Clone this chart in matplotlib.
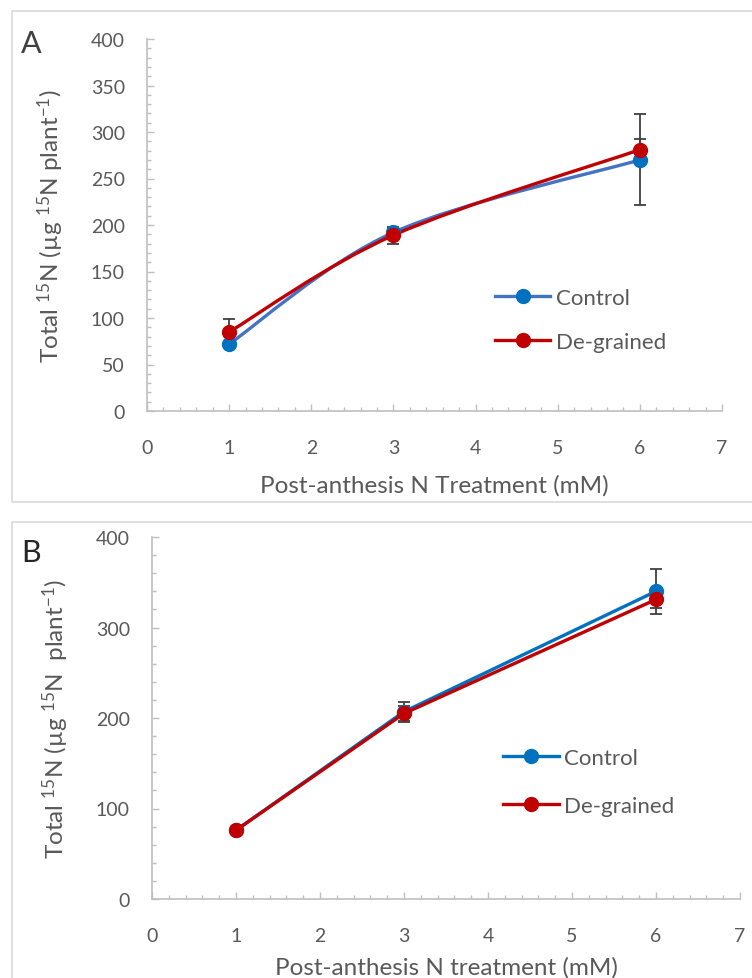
import matplotlib
matplotlib.use("Agg")
import numpy as np
import matplotlib.pyplot as plt
from matplotlib.path import Path
from matplotlib.patches import PathPatch, Rectangle
from matplotlib.lines import Line2D
from matplotlib.ticker import MultipleLocator

# ---- data ----
n_treatment = [1, 3, 6]

a_control = [72, 192, 270]
a_control_err = [2, 5, 49]
a_degrained = [85, 189, 281]
a_degrained_err = [14, 9, 12]

b_control = [76, 207, 340]
b_control_err = [1.5, 11, 25]
b_degrained = [76, 205, 331]
b_degrained_err = [1.5, 8, 10]

series_labels = ["Control", "De-grained"]

W, H = 752, 979
TXT = "#595959"
AXC = "#BFBFBF"
RED = "#C00000"
BLUE_MK = "#0070C0"

plt.rcParams["font.family"] = ["Lato", "DejaVu Sans"]
plt.rcParams["mathtext.fontset"] = "custom"
plt.rcParams["mathtext.rm"] = "Lato"
plt.rcParams["mathtext.it"] = "Lato:italic"
plt.rcParams["mathtext.bf"] = "Lato:bold"


def smooth_path(xs, ys):
    """Excel-style smoothed line (Catmull-Rom converted to cubic Bezier)."""
    pts = np.column_stack([xs, ys]).astype(float)
    ext = np.vstack([pts[0], pts, pts[-1]])
    verts = [pts[0]]
    codes = [Path.MOVETO]
    for i in range(len(pts) - 1):
        p0, p1, p2, p3 = ext[i], ext[i + 1], ext[i + 2], ext[i + 3]
        verts += [p1 + (p2 - p0) / 6, p2 - (p3 - p1) / 6, p2]
        codes += [Path.CURVE4] * 3
    return Path(verts, codes)


def px_axes(left, top, right, bottom):
    return fig.add_axes([left / W, 1 - bottom / H, (right - left) / W, (bottom - top) / H])


def style_axes(ax, ymax, ymajor, yminor):
    ax.set_xlim(0, 7)
    ax.set_ylim(0, ymax)
    ax.xaxis.set_major_locator(MultipleLocator(1))
    ax.xaxis.set_minor_locator(MultipleLocator(0.2))
    ax.yaxis.set_major_locator(MultipleLocator(ymajor))
    ax.yaxis.set_minor_locator(MultipleLocator(yminor))
    for s in ["top", "right"]:
        ax.spines[s].set_visible(False)
    for s in ["left", "bottom"]:
        ax.spines[s].set_color(AXC)
        ax.spines[s].set_linewidth(1.2)
    ax.tick_params(which="major", direction="in", length=5, width=1, color=AXC,
                   labelcolor=TXT, labelsize=14)
    ax.tick_params(which="minor", direction="in", length=3, width=1, color=AXC)
    ax.tick_params(axis="y", pad=16)
    ax.tick_params(axis="x", pad=20.5)
    ax.patch.set_alpha(0)


def draw_series(ax, x, y, err, line_color, marker_color, smooth):
    # capsize is half the cap width in matplotlib
    ax.errorbar(x, y, yerr=err, fmt="none", ecolor="#404040", elinewidth=1.3,
                capsize=4, capthick=1.3, zorder=2)
    if smooth:
        ax.add_patch(PathPatch(smooth_path(x, y), fill=False, edgecolor=line_color,
                               lw=2.4, zorder=3, capstyle="round"))
        ax.plot(x, y, linestyle="none", marker="o", ms=10, color=marker_color, zorder=4)
    else:
        ax.plot(x, y, color=line_color, lw=2.4, marker="o", ms=10,
                markerfacecolor=marker_color, markeredgecolor=marker_color, zorder=3)


def add_legend(ax, colors, anchor, spacing):
    handles = [Line2D([], [], color=lc, lw=2.4, marker="o", ms=10,
                      markerfacecolor=mc, markeredgecolor=mc) for lc, mc in colors]
    ax.legend(handles, series_labels, loc="center left", bbox_to_anchor=anchor,
              frameon=False, fontsize=16, labelcolor=TXT, handlelength=2.5,
              handletextpad=0.25, labelspacing=spacing, borderaxespad=0, borderpad=0)


fig = plt.figure(figsize=(W / 100, H / 100), dpi=100)

# panel borders
fig.add_artist(Rectangle((12 / W, 1 - 503 / H), 760 / W, 491 / H, transform=fig.transFigure,
                         fill=False, ec="#D9D9D9", lw=1.2))
fig.add_artist(Rectangle((12 / W, 1 - 990 / H), 760 / W, 467 / H, transform=fig.transFigure,
                         fill=False, ec="#D9D9D9", lw=1.2))

# ---- Panel A ----
ax1 = px_axes(147, 40, 722, 412)
style_axes(ax1, 400, 50, 10)
draw_series(ax1, n_treatment, a_control, a_control_err, "#4472C4", BLUE_MK, True)
draw_series(ax1, n_treatment, a_degrained, a_degrained_err, RED, RED, True)
ax1.set_xlabel("Post-anthesis N Treatment (mM)", fontsize=17.5, color=TXT, labelpad=13)
ax1.set_ylabel("Total $^{15}$N (µg $^{15}$N plant$^{-1}$)", fontsize=17.5, color=TXT,
               labelpad=18)
add_legend(ax1, [("#4472C4", BLUE_MK), (RED, RED)], (0.605, 0.245), 1.1)
fig.text(21 / W, 1 - 44 / H, "A", fontsize=22, color="#404040", va="center", ha="left")

# ---- Panel B ----
ax2 = px_axes(152, 538, 740, 900)
style_axes(ax2, 400, 100, 20)
draw_series(ax2, n_treatment, b_control, b_control_err, BLUE_MK, BLUE_MK, False)
draw_series(ax2, n_treatment, b_degrained, b_degrained_err, RED, RED, False)
ax2.set_xlabel("Post-anthesis N treatment (mM)", fontsize=17.5, color=TXT, labelpad=8)
ax2.set_ylabel("Total $^{15}$N (µg $^{15}$N  plant$^{-1}$)", fontsize=17.5, color=TXT,
               labelpad=18)
add_legend(ax2, [(BLUE_MK, BLUE_MK), (RED, RED)], (0.597, 0.323), 1.25)
fig.text(21 / W, 1 - 553 / H, "B", fontsize=22, color="#262626", va="center", ha="left")

fig.savefig("out.png", dpi=100)
